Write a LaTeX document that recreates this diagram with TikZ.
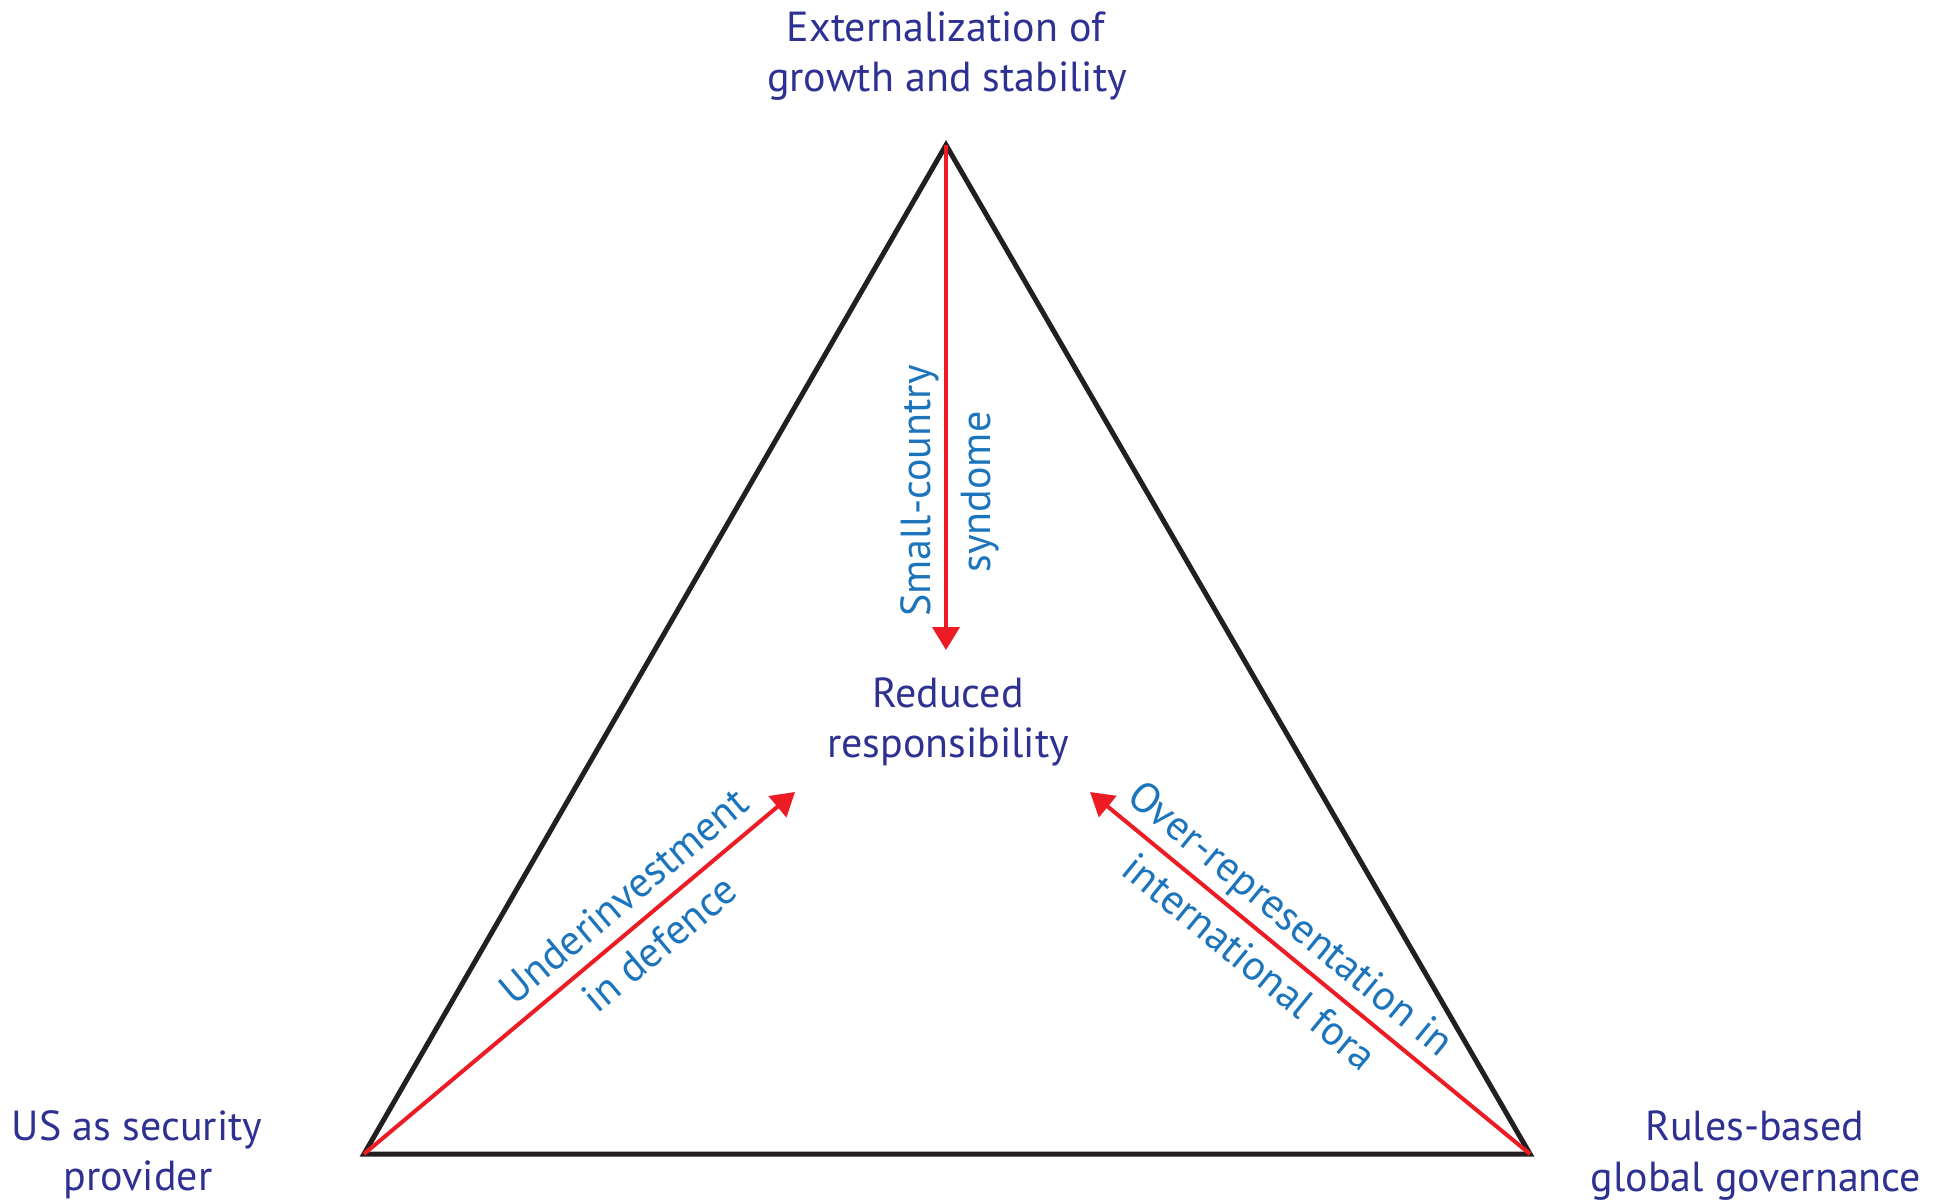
\documentclass[tikz,border=0pt]{standalone}
\usepackage{fontspec}
\setmainfont{PT Sans}
\usetikzlibrary{arrows.meta}
\definecolor{titleblue}{RGB}{46,49,146}
\definecolor{labelblue}{RGB}{28,117,188}
\definecolor{arrowred}{RGB}{237,28,36}
\definecolor{edgeblack}{RGB}{35,31,32}
\tikzset{
  corner/.style={font=\fontsize{21pt}{25pt}\selectfont, text=titleblue, anchor=base, inner sep=0pt},
  edgelabel/.style={font=\fontsize{21pt}{25pt}\selectfont, text=labelblue, anchor=base, inner sep=0pt},
  frame/.style={draw=edgeblack, line width=2.5pt},
  push/.style={draw=arrowred, line width=2pt, -{Triangle[width=13.5pt,length=11.5pt]}}
}
\begin{document}
\begin{tikzpicture}[x=0.5pt, y=-0.5pt]
  \useasboundingbox (0,0) rectangle (1938,1204);
  % triangle corners and the common target
  \coordinate (top) at (946,145);
  \coordinate (bl) at (364,1154);
  \coordinate (br) at (1530,1154);
  \coordinate (tipT) at (946,650);
  \coordinate (tipL) at (795,792);
  \coordinate (tipR) at (1090,792);

  \draw[frame] (top) -- (bl) -- (br) -- cycle;

  \draw[push] (top) -- (tipT);
  \draw[push] (bl) -- (tipL);
  \draw[push] (br) -- (tipR);

  % corner captions
  \node[corner] (ext1) at (946,42) {Externalization of};
  \node[corner] (ext2) at (947,92) {growth and stability};
  \node[corner] (red1) at (948,707) {Reduced};
  \node[corner] (red2) at (948,757) {responsibility};
  \node[corner] (us1) at (137,1140) {US as security};
  \node[corner] (us2) at (138,1190) {provider};
  \node[corner] (rb1) at (1755,1140) {Rules-based};
  \node[corner] (rb2) at (1756,1191) {global governance};

  % arrow labels
  \node[edgelabel, rotate=90] (sc1) at (930,491) {Small-country};
  \node[edgelabel, rotate=90] (sc2) at (990,492) {syndome};
  \node[edgelabel, rotate=40] (ud1) at (633,907) {Underinvestment};
  \node[edgelabel, rotate=40] (ud2) at (669,955) {in defence};
  \node[edgelabel, rotate=-39.4] (ov1) at (1282,929) {Over-representation in};
  \node[edgelabel, rotate=-39.4] (ov2) at (1241,973) {international fora};
\end{tikzpicture}
\end{document}
